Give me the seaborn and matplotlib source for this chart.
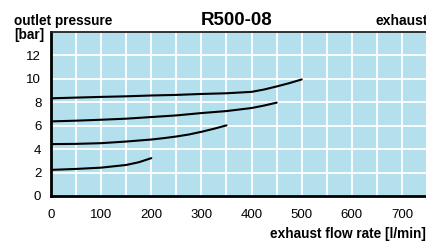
import matplotlib
matplotlib.use("Agg")
import matplotlib.pyplot as plt
import seaborn as sns
import pandas as pd

# ==========================================
# data
# ==========================================
TITLE = "R500-08"
X_TICKS = [0, 100, 200, 300, 400, 500, 600, 700]
Y_TICKS = [0, 2, 4, 6, 8, 10, 12]

flow_2bar = [0, 50, 100, 150, 175, 200]
pres_2bar = [2.23, 2.31, 2.42, 2.65, 2.88, 3.23]

flow_4bar = [0, 50, 100, 150, 200, 225, 250, 275, 300, 325, 350]
pres_4bar = [4.43, 4.45, 4.51, 4.65, 4.82, 4.94, 5.08, 5.25, 5.48, 5.74, 6.03]

flow_6bar = [0, 50, 100, 150, 200, 250, 300, 350, 400, 425, 450]
pres_6bar = [6.37, 6.43, 6.51, 6.6, 6.74, 6.88, 7.08, 7.25, 7.51, 7.72, 7.97]

flow_8bar = [0, 50, 100, 150, 200, 250, 300, 350, 400, 425, 450, 475, 500]
pres_8bar = [8.34, 8.4, 8.46, 8.51, 8.58, 8.63, 8.71, 8.77, 8.89, 9.09, 9.35, 9.63, 9.95]

curves = {
    "2": (flow_2bar, pres_2bar),
    "4": (flow_4bar, pres_4bar),
    "6": (flow_6bar, pres_6bar),
    "8": (flow_8bar, pres_8bar),
}

BG = "#b3e0ec"

sns.set_style("white")
plt.rcParams["font.family"] = ["Liberation Sans", "DejaVu Sans"]
plt.rcParams["text.color"] = "black"
plt.rcParams["xtick.color"] = "black"
plt.rcParams["ytick.color"] = "black"

fig = plt.figure(figsize=(4.26, 2.42), dpi=100)
ax = fig.add_axes([51 / 426, 46 / 242, 1 - 51 / 426, 164 / 242])
ax.set_facecolor(BG)

rows = []
for name, (xs, ys) in curves.items():
    for x, y in zip(xs, ys):
        rows.append({"curve": name, "flow": x, "pressure": y})
df = pd.DataFrame(rows)

for name in curves:
    sub = df[df["curve"] == name]
    sns.lineplot(data=sub, x="flow", y="pressure", ax=ax, color="black",
                 linewidth=1.5, sort=True, estimator=None, legend=False)

# grid every 50 l/min and every 2 bar
for gx in range(50, 750, 50):
    ax.axvline(gx, color="white", linewidth=1.3, zorder=0.5)
for gy in range(2, 14, 2):
    ax.axhline(gy, color="white", linewidth=1.3, zorder=0.5)

ax.set_xlim(0, 748)
ax.set_ylim(0, 14)
ax.set_xticks(X_TICKS)
ax.set_yticks(Y_TICKS)
ax.tick_params(length=0, labelsize=9.5)
ax.tick_params(axis="x", pad=9)
ax.tick_params(axis="y", pad=7)
ax.set_xlabel("")
ax.set_ylabel("")

for side in ["left", "bottom"]:
    ax.spines[side].set_color("black")
    ax.spines[side].set_linewidth(2)
ax.spines["top"].set_color("#222222")
ax.spines["top"].set_linewidth(1.3)
ax.spines["right"].set_visible(False)

fig.text(14 / 426, 1 - 25 / 242, "outlet pressure", fontsize=9.8, fontweight="bold")
fig.text(14 / 426, 1 - 39 / 242, "[bar]", fontsize=9.8, fontweight="bold")
fig.text(237 / 426, 1 - 25 / 242, TITLE, fontsize=13.5, fontweight="bold", ha="center")
fig.text(376 / 426, 1 - 25 / 242, "exhaust", fontsize=10, fontweight="bold")
fig.text(426 / 426, 1 - 238 / 242, "exhaust flow rate [l/min]", fontsize=9.8,
         fontweight="bold", ha="right")

fig.savefig("out.png", dpi=100)
